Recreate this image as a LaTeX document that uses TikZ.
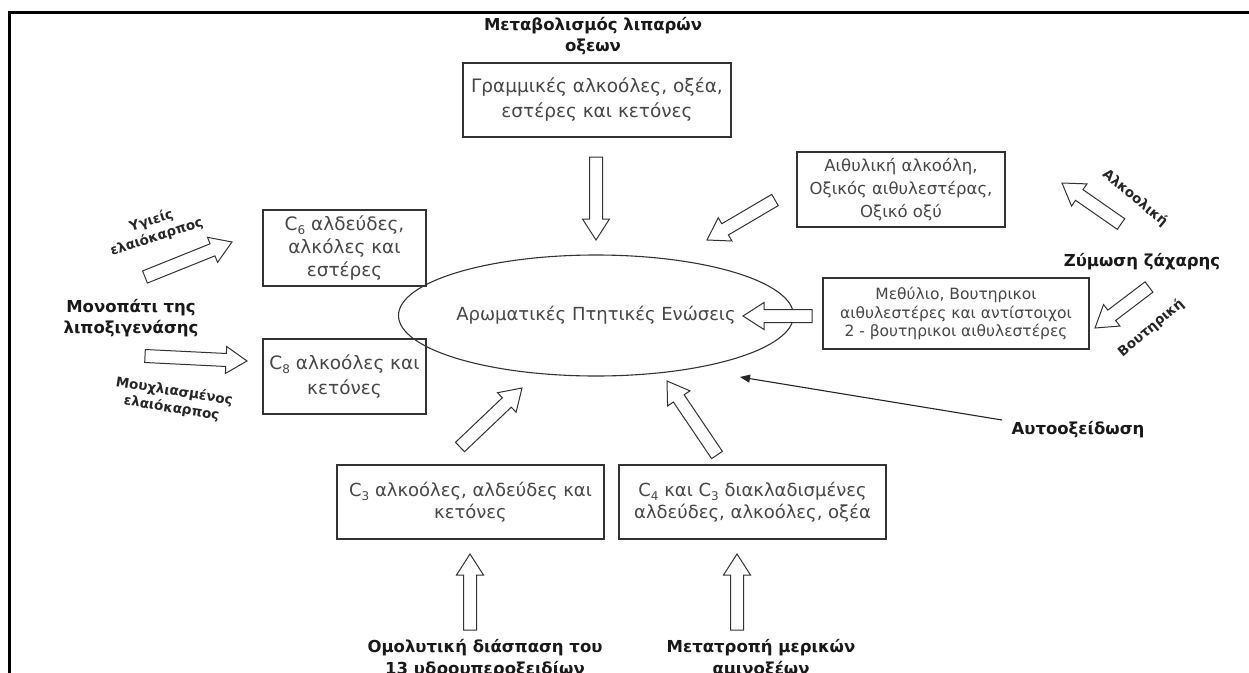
\documentclass[tikz,border=0pt]{standalone}
\usepackage{fontspec}
\setmainfont{DejaVu Sans}
\newfontfamily\labfont{DejaVu Sans}
\usetikzlibrary{calc,shapes.geometric,arrows.meta}
\newcommand{\subn}[1]{\raisebox{-0.4ex}{\fontsize{12}{12}\selectfont #1}}
\newcommand{\blockarrow}[2]{%
  \coordinate (bh) at ($(#2)!21pt!(#1)$);
  \draw[barrow] ($(#1)!6.5pt!90:(#2)$) -- ($(bh)!6.5pt!-90:(#1)$) -- ($(bh)!13.5pt!-90:(#1)$) -- (#2)
    -- ($(bh)!13.5pt!90:(#1)$) -- ($(bh)!6.5pt!90:(#1)$) -- ($(#1)!6.5pt!-90:(#2)$) -- cycle;}
\begin{document}
\begin{tikzpicture}[x=1pt,y=-1pt,
  box/.style={draw=black!80,line width=1.1pt,inner sep=0pt,align=center,text=black!72,font=\fontsize{18}{22}\selectfont},
  lbl/.style={align=center,text=black!90,font=\labfont\bfseries\fontsize{16.5}{21.5}\selectfont},
  rlbl/.style={align=center,text=black!85,font=\bfseries\fontsize{13.5}{17}\selectfont,inner sep=0pt},
  barrow/.style={draw=black!80,line width=1pt,fill=white,line join=miter},
  thin/.style={draw=black!85,line width=1.1pt,-{Triangle[length=10pt,width=8pt]}}]
\useasboundingbox (0,0) rectangle (1249,672);
\clip (0,0) rectangle (1249,672);
\fill[white] (0,0) rectangle (1249,672);
% frame
\draw[line width=3pt,black] (9,680) -- (9,12) -- (1260,12);

% boxes
\node[box,minimum width=268pt,minimum height=74pt,font=\fontsize{18.5}{25}\selectfont] (lin) at (597,100) {Γραμμικές αλκοόλες, οξέα,\\εστέρες και κετόνες};
\node[box,minimum width=208pt,minimum height=75pt,font=\fontsize{16.5}{23}\selectfont] (eth) at (901,189.5) {Αιθυλική αλκοόλη,\\Οξικός αιθυλεστέρας,\\Οξικό οξύ};
\node[box,minimum width=266pt,minimum height=71pt,font=\fontsize{15.5}{18.5}\selectfont] (met) at (956,313.5) {Μεθύλιο, Βουτηρικοι\\αιθυλεστέρες και αντίστοιχοι\\2 - βουτηρικοι αιθυλεστέρες};
\node[box,minimum width=163pt,minimum height=76pt,font=\fontsize{18.5}{23}\selectfont] (c6) at (344.5,248) {C\subn{6} αλδεύδες,\\αλκόλες και\\εστέρες};
\node[box,minimum width=163pt,minimum height=75pt,font=\fontsize{18.5}{25}\selectfont] (c8) at (344.5,376.5) {C\subn{8} αλκοόλες και\\κετόνες};
\node[box,minimum width=267pt,minimum height=74pt,font=\fontsize{18}{21.5}\selectfont] (c3) at (470.5,502) {C\subn{3} αλκοόλες, αλδεύδες και\\κετόνες};
\node[box,minimum width=267pt,minimum height=74pt,font=\fontsize{18}{21.5}\selectfont] (c4) at (752.5,502) {C\subn{4} και C\subn{3} διακλαδισμένες\\αλδεύδες, αλκοόλες, οξέα};

% ellipse
\node[ellipse,draw=black!80,line width=1.1pt,minimum width=282pt,minimum height=121pt,inner sep=0pt,text=black!72,font=\fontsize{18}{20}\selectfont] (aro) at (596,315.5) {Αρωματικές Πτητικές Ενώσεις};

% bold labels
\node[lbl] (fat) at (593,36) {Μεταβολισμός λιπαρών\\οξεων};
\node[lbl,font=\labfont\bfseries\fontsize{16.5}{20.5}\selectfont] (lox) at (131,318) {Μονοπάτι της\\λιποξιγενάσης};
\node[lbl] (sug) at (1142,262) {Ζύμωση ζάχαρης};
\node[lbl] (aut) at (1078,430) {Αυτοοξείδωση};
\node[lbl,font=\labfont\bfseries\fontsize{16.5}{22}\selectfont] (hom) at (485,659) {Ομολυτική διάσπαση του\\13 υδρουπεροξειδίων};
\node[lbl,font=\labfont\bfseries\fontsize{16.5}{22}\selectfont] (ami) at (761,659) {Μετατροπή μερικών\\αμινοξέων};

% rotated labels
\node[rlbl,rotate=18] (hea) at (154,229) {Υγιείς\\ελαιόκαρπος};
\node[rlbl,rotate=-9] (mou) at (173,400) {Μουχλιασμένος\\ελαιόκαρπος};
\node[rlbl,rotate=-40] (alc) at (1135,198) {Αλκοολική};
\node[rlbl,rotate=40] (but) at (1151,328) {Βουτηρική};

% arrow end points
\coordinate (a1t) at (596,157);  \coordinate (a1h) at (596,240);
\coordinate (a2t) at (775,200);  \coordinate (a2h) at (707,240);
\coordinate (a3t) at (1121,224); \coordinate (a3h) at (1062,183);
\coordinate (a4t) at (1149,287); \coordinate (a4h) at (1095,328);
\coordinate (a5t) at (812,316);  \coordinate (a5h) at (743,316);
\coordinate (a6t) at (145,277);  \coordinate (a6h) at (232,242);
\coordinate (a7t) at (145,356);  \coordinate (a7h) at (247,361);
\coordinate (a8t) at (460,447);  \coordinate (a8h) at (522,388);
\coordinate (a9t) at (717,455);  \coordinate (a9h) at (667,381);
\coordinate (a10t) at (470,630); \coordinate (a10h) at (470,554);
\coordinate (a11t) at (737,630); \coordinate (a11h) at (737,554);
\coordinate (ox) at (740,377);
\coordinate (ot) at (1002,420);

\blockarrow{a1t}{a1h}
\blockarrow{a2t}{a2h}
\blockarrow{a3t}{a3h}
\blockarrow{a4t}{a4h}
\blockarrow{a5t}{a5h}
\blockarrow{a6t}{a6h}
\blockarrow{a7t}{a7h}
\blockarrow{a8t}{a8h}
\blockarrow{a9t}{a9h}
\blockarrow{a10t}{a10h}
\blockarrow{a11t}{a11h}

\draw[thin] (ot) -- (ox);
\end{tikzpicture}
\end{document}
